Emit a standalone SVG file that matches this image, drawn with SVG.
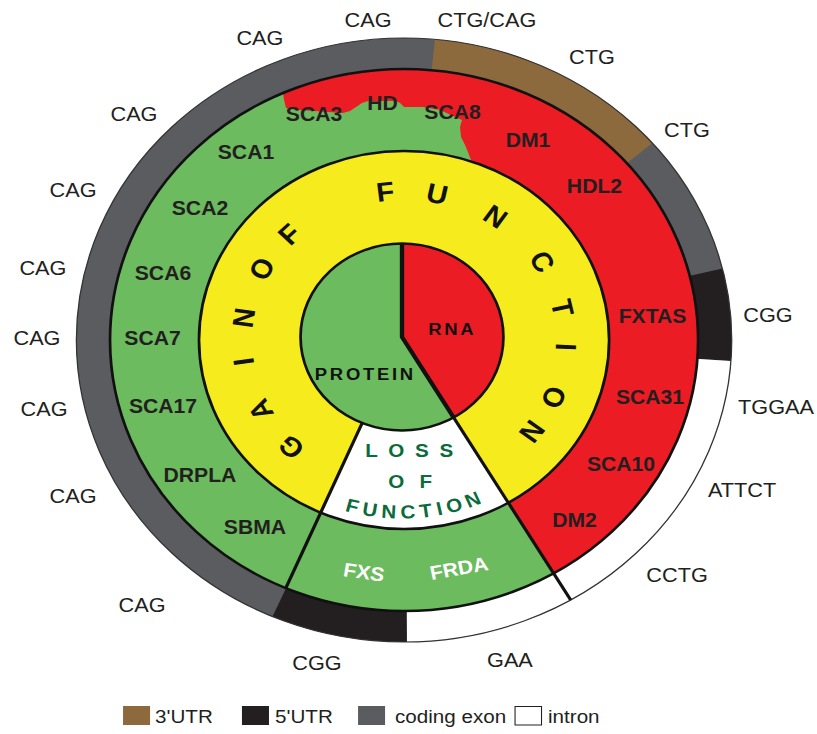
<svg xmlns="http://www.w3.org/2000/svg" width="817" height="734" viewBox="0 0 817 734">
<style>
.lbl{font-family:"Liberation Sans",Arial,sans-serif;font-size:20px;fill:#231f20;text-anchor:middle}
.dis{font-family:"Liberation Sans",Arial,sans-serif;font-weight:bold;font-size:19.5px;fill:#231f20;text-anchor:middle}
.wdis{font-family:"Liberation Sans",Arial,sans-serif;font-weight:bold;font-size:19.5px;fill:#ffffff;text-anchor:middle}
.gof{font-family:"Liberation Sans",Arial,sans-serif;font-weight:bold;font-size:27px;fill:#111;text-anchor:middle}
.core{font-family:"Liberation Sans",Arial,sans-serif;font-weight:bold;font-size:17px;fill:#111;text-anchor:middle;letter-spacing:2.5px}
.lof{font-family:"Liberation Sans",Arial,sans-serif;font-weight:bold;font-size:19px;fill:#0b6b3a;text-anchor:middle}
.leg{font-family:"Liberation Sans",Arial,sans-serif;font-size:19px;fill:#231f20}
.edge{fill:none;stroke:#111;stroke-width:2.5}
</style>
<rect width="817" height="734" fill="#ffffff"/>
<g transform="scale(1.085,1)">
  <g id="outer-ring">
    <circle cx="372.4" cy="340" r="302" fill="#5b5c5f"/>
    <path d="M372.4,340 L400.8,39.3 A302,302 0 0 1 601.3,143.1 Z" fill="#8c6a3e"/>
    <path d="M372.4,340 L665.8,268.5 A302,302 0 0 1 673.7,361.1 Z" fill="#231f20"/>
    <path d="M372.4,340 L673.7,361.1 A302,302 0 0 1 375.0,642.0 Z" fill="#ffffff"/>
    <path d="M372.4,340 L375.0,642.0 A302,302 0 0 1 251.2,616.6 Z" fill="#231f20"/>
    <circle cx="372.4" cy="340" r="302" fill="none" stroke="#333" stroke-width="1.2"/>
  </g>
  <g id="disease-ring">
    <circle cx="372.4" cy="340" r="271" fill="#6cbb5f"/>
    <path d="M260.8,93 A271,271 0 0 1 510.25,573.3 L468.5,502.7 A189,189 0 0 0 434.6,161.5 L431.3,152 L428.6,145 L424.9,137 L424.0,127 L425.8,120 L405.5,110 L389.9,107 L372.4,107 L368.7,103 L365.0,101 L339.2,101 L333.6,103 L328.1,107 L322.6,111 L316.1,113 L276.5,110 L263.6,108 L261.8,100 Z" fill="#ec1c24"/>
    <circle cx="372.4" cy="340" r="271" class="edge"/>
  </g>
  <g id="mechanism-ring">
    <circle cx="372.4" cy="340" r="189" fill="#f6eb1c"/>
    <path d="M333.8,423 L295.6,512.7 A189,189 0 0 0 468.5,502.7 L418.1,417.5 A93.5,93.5 0 0 1 333.8,423 Z" fill="#ffffff"/>
    <circle cx="372.4" cy="340" r="189" class="edge"/>
  </g>
  <g id="core">
    <circle cx="370.5" cy="337" r="93.5" fill="#6cbb5f"/>
    <path d="M370.5,243.5 L370.5,337 L418.1,417.5 A93.5,93.5 0 0 0 370.5,243.5 Z" fill="#ec1c24"/>
    <circle cx="370.5" cy="337" r="93.5" class="edge"/>
  </g>
  <g id="connectors" fill="none" stroke="#111">
    <polyline points="370.5,243.5 370.5,337 418.1,417.5" stroke-width="4"/>
    <line x1="333.8" y1="423" x2="263.4" y2="588.1" stroke-width="3"/>
    <line x1="418.1" y1="417.5" x2="526.0" y2="600.0" stroke-width="3"/>
  </g>
  <g id="repeat-labels">
    <text class="lbl" x="239.6" y="45">CAG</text>
    <text class="lbl" x="339.2" y="27">CAG</text>
    <text class="lbl" x="448.8" y="27">CTG/CAG</text>
    <text class="lbl" x="545.6" y="64">CTG</text>
    <text class="lbl" x="633.2" y="137">CTG</text>
    <text class="lbl" x="707.8" y="322">CGG</text>
    <text class="lbl" x="715.2" y="414">TGGAA</text>
    <text class="lbl" x="683.9" y="497">ATTCT</text>
    <text class="lbl" x="624.0" y="582">CCTG</text>
    <text class="lbl" x="470.0" y="667">GAA</text>
    <text class="lbl" x="292.2" y="670">CGG</text>
    <text class="lbl" x="130.9" y="612">CAG</text>
    <text class="lbl" x="67.3" y="503">CAG</text>
    <text class="lbl" x="40.6" y="416">CAG</text>
    <text class="lbl" x="34.1" y="345">CAG</text>
    <text class="lbl" x="39.6" y="275">CAG</text>
    <text class="lbl" x="67.3" y="197">CAG</text>
    <text class="lbl" x="123.5" y="121">CAG</text>
  </g>
  <g id="disease-labels">
    <text class="dis" x="289.4" y="121">SCA3</text>
    <text class="dis" x="352.5" y="110">HD</text>
    <text class="dis" x="417.1" y="119">SCA8</text>
    <text class="dis" x="486.6" y="147">DM1</text>
    <text class="dis" x="547.9" y="193">HDL2</text>
    <text class="dis" x="601.4" y="323">FXTAS</text>
    <text class="dis" x="599.1" y="404">SCA31</text>
    <text class="dis" x="572.4" y="471">SCA10</text>
    <text class="dis" x="529.5" y="527">DM2</text>
    <text class="dis" x="226.7" y="159">SCA1</text>
    <text class="dis" x="184.3" y="215">SCA2</text>
    <text class="dis" x="150.2" y="280">SCA6</text>
    <text class="dis" x="140.6" y="345">SCA7</text>
    <text class="dis" x="150.2" y="413">SCA17</text>
    <text class="dis" x="184.3" y="482">DRPLA</text>
    <text class="dis" x="235.0" y="534">SBMA</text>
    <text class="wdis" x="335.5" y="579" transform="rotate(9 335.5 572)">FXS</text>
    <text class="wdis" x="423.0" y="575" transform="rotate(-11 423 568)">FRDA</text>
  </g>
  <g id="gain-of-function">
    <text class="gof" y="10" transform="translate(372.4,340) rotate(224.2) translate(0,-150)">G</text>
    <text class="gof" y="10" transform="translate(372.4,340) rotate(242.2) translate(0,-150)">A</text>
    <text class="gof" y="10" transform="translate(372.4,340) rotate(261.7) translate(0,-150)">I</text>
    <text class="gof" y="10" transform="translate(372.4,340) rotate(278.6) translate(0,-150)">N</text>
    <text class="gof" y="10" transform="translate(372.4,340) rotate(298.5) translate(0,-150)">O</text>
    <text class="gof" y="10" transform="translate(372.4,340) rotate(315) translate(0,-150)">F</text>
    <text class="gof" y="10" transform="translate(372.4,340) rotate(353.3) translate(0,-150)">F</text>
    <text class="gof" y="10" transform="translate(372.4,340) rotate(11.8) translate(0,-150)">U</text>
    <text class="gof" y="10" transform="translate(372.4,340) rotate(34.3) translate(0,-150)">N</text>
    <text class="gof" y="10" transform="translate(372.4,340) rotate(58.4) translate(0,-150)">C</text>
    <text class="gof" y="10" transform="translate(372.4,340) rotate(77.5) translate(0,-150)">T</text>
    <text class="gof" y="10" transform="translate(372.4,340) rotate(92.7) translate(0,-150)">I</text>
    <text class="gof" y="10" transform="translate(372.4,340) rotate(112.5) translate(0,-150)">O</text>
    <text class="gof" y="10" transform="translate(372.4,340) rotate(127.8) translate(0,-150)">N</text>
  </g>
  <g id="core-labels">
    <text class="core" x="336.7" y="380">PROTEIN</text>
    <text class="core" x="416.9" y="335">RNA</text>
  </g>
  <g id="loss-of-function">
    <defs><path id="lofarc" d="M280.5,494.9 A182,182 0 0 0 486.2,476.9"/></defs>
    <text class="lof" x="382" y="457" letter-spacing="9.8">LOSS</text>
    <text class="lof" x="385" y="488" letter-spacing="14">OF</text>
    <text class="lof" letter-spacing="4.5"><textPath href="#lofarc" startOffset="49%">FUNCTION</textPath></text>
  </g>
  <g id="legend">
    <rect x="113.4" y="706" width="24.9" height="19" fill="#8c6a3e"/>
    <text class="leg" x="142.9" y="723">3'UTR</text>
    <rect x="223.0" y="706" width="24.9" height="19" fill="#231f20"/>
    <text class="leg" x="253.5" y="723">5'UTR</text>
    <rect x="330.0" y="706" width="24.9" height="19" fill="#5b5c5f"/>
    <text class="leg" x="364.1" y="723">coding exon</text>
    <rect x="474.7" y="706.5" width="24.4" height="18.5" fill="#ffffff" stroke="#231f20" stroke-width="1"/>
    <text class="leg" x="505.1" y="723">intron</text>
  </g>
</g>
</svg>
